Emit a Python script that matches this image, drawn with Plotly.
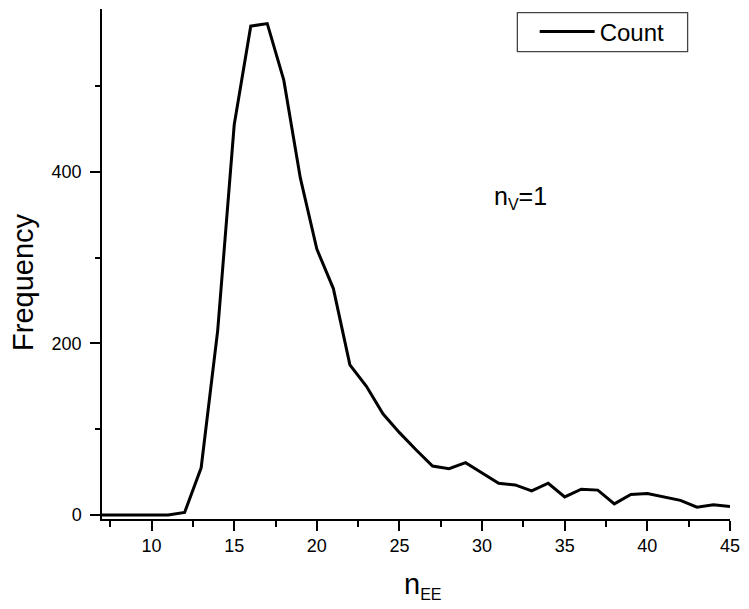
import plotly.graph_objects as go

n_ee = list(range(7, 46))
count = [0, 0, 0, 0, 0, 3, 55, 215, 455, 570, 573, 507, 393, 310, 264, 175,
         150, 118, 96, 76, 57, 54, 61, 49, 37, 35, 28, 37, 21, 30, 29, 13,
         24, 25, 21, 17, 9, 12, 10]

FONT = "Arial, Liberation Sans, sans-serif"

fig = go.Figure()
fig.add_trace(go.Scatter(x=n_ee, y=count, mode="lines", name="Count",
                         line=dict(color="black", width=3)))

fig.update_layout(
    width=749, height=609,
    margin=dict(l=102, r=14, t=9, b=90),
    plot_bgcolor="white", paper_bgcolor="white",
    font=dict(family=FONT, color="black", size=18),
    showlegend=True,
    legend=dict(x=0.689, y=0.955, xanchor="left", yanchor="middle",
                borderwidth=0, bgcolor="rgba(0,0,0,0)",
                font=dict(size=24, family=FONT), itemwidth=55,
                tracegroupgap=0),
    shapes=[dict(type="rect", xref="paper", yref="paper",
                 x0=0.6614, x1=0.9325, y0=0.9163, y1=0.9927,
                 line=dict(color="#444", width=1.3), fillcolor="rgba(0,0,0,0)",
                 layer="above")],
)

fig.update_xaxes(range=[7, 45], showline=True, linecolor="black", linewidth=1.5,
                 showgrid=False, zeroline=False, ticks="outside", ticklen=10,
                 tickwidth=1.5, tickcolor="black", tick0=10, dtick=5,
                 tickfont=dict(size=18),
                 minor=dict(ticks="outside", ticklen=6, tickwidth=1.5,
                            tickcolor="black", dtick=2.5, tick0=10, showgrid=False))
fig.update_yaxes(range=[-4.7, 590], showline=True, linecolor="black", linewidth=1.5,
                 showgrid=False, zeroline=False, ticks="outside", ticklen=10,
                 tickwidth=1.5, tickcolor="black", tickvals=[0, 200, 400],
                 tickfont=dict(size=18), ticklabelstandoff=5,
                 minor=dict(ticks="outside", ticklen=5, tickwidth=1.5,
                            tickcolor="black", tickvals=[100, 300, 500], showgrid=False))

fig.add_annotation(text="Frequency", xref="paper", yref="paper",
                   x=-0.1256, y=0.465, xanchor="center", yanchor="middle",
                   textangle=-90, showarrow=False, font=dict(size=29, family=FONT))
fig.add_annotation(text="n<sub><span style='font-size:16px'>EE</span></sub>",
                   xref="paper", yref="paper",
                   x=0.51, y=-0.13, xanchor="center", yanchor="middle",
                   showarrow=False, font=dict(size=29, family=FONT))
fig.add_annotation(text="n<sub><span style='font-size:16px'>V</span></sub>=1",
                   xref="x", yref="y",
                   x=30.6, y=370, xanchor="left", yanchor="middle",
                   showarrow=False, font=dict(size=25, family=FONT))

fig.write_html("out.html", config={"displayModeBar": False},
               post_script="document.body.style.margin='0';")
